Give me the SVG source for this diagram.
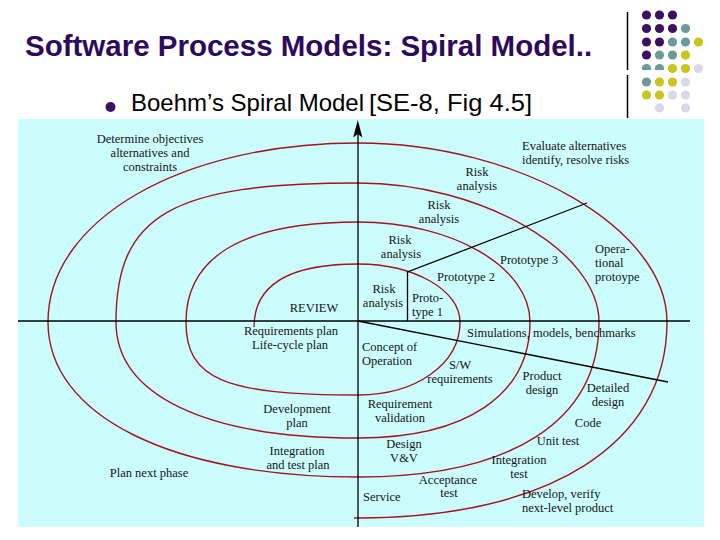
<svg xmlns="http://www.w3.org/2000/svg" width="720" height="540" viewBox="0 0 720 540">
<defs>
<style>
.t{font-family:"Liberation Serif","Times New Roman",serif;font-size:12.5px;fill:#151515}
.c{text-anchor:middle}
.sp{fill:none;stroke:#a3141c;stroke-width:1.4}
.ax{stroke:#000;stroke-width:1.3;fill:none}
.pu{fill:#3b1260}.te{fill:#6c9a9a}.ye{fill:#c9c41e}.la{fill:#d8d8ea}
</style>
</defs>
<rect width="720" height="540" fill="#fff"/>
<g id="title">
<text x="25" y="56" font-family="'Liberation Sans',Arial,sans-serif" font-weight="bold" font-size="29.5" fill="#2e0a5a">Software Process Models: Spiral Model..</text>
</g>
<g id="bullet">
<circle cx="110.5" cy="107" r="5" fill="#3b1260"/>
<text x="131" y="111" font-family="'Liberation Sans',Arial,sans-serif" font-size="24" fill="#000">Boehm’s Spiral Model</text>
<text x="369" y="111" font-family="'Liberation Sans',Arial,sans-serif" font-size="24" fill="#000" textLength="163" lengthAdjust="spacingAndGlyphs">[SE-8, Fig 4.5]</text>
</g>
<g id="decor">
<line x1="627.5" y1="12" x2="627.5" y2="118" stroke="#000" stroke-width="1.5"/>
<circle class="pu" cx="646.5" cy="15" r="4.6"/><circle class="pu" cx="659.5" cy="15" r="4.6"/><circle class="pu" cx="672.5" cy="15" r="4.6"/>
<circle class="pu" cx="646.5" cy="28.5" r="4.6"/><circle class="pu" cx="659.5" cy="28.5" r="4.6"/><circle class="pu" cx="672.5" cy="28.5" r="4.6"/><circle class="te" cx="685.5" cy="28.5" r="4.6"/>
<circle class="pu" cx="646.5" cy="42" r="4.6"/><circle class="pu" cx="659.5" cy="42" r="4.6"/><circle class="te" cx="672.5" cy="42" r="4.6"/><circle class="te" cx="685.5" cy="42" r="4.6"/><circle class="ye" cx="698.5" cy="42" r="4.6"/>
<circle class="pu" cx="646.5" cy="55" r="4.6"/><circle class="te" cx="659.5" cy="55" r="4.6"/><circle class="te" cx="672.5" cy="55" r="4.6"/><circle class="ye" cx="685.5" cy="55" r="4.6"/>
<circle class="te" cx="646.5" cy="68.5" r="4.6"/><circle class="te" cx="659.5" cy="68.5" r="4.6"/><circle class="ye" cx="672.5" cy="68.5" r="4.6"/><circle class="ye" cx="685.5" cy="68.5" r="4.6"/><circle class="la" cx="698.5" cy="68.5" r="4.6"/>
<rect x="620" y="70" width="47" height="5" fill="#fff"/>
<circle class="te" cx="646.5" cy="82" r="4.6"/><circle class="ye" cx="659.5" cy="82" r="4.6"/><circle class="ye" cx="672.5" cy="82" r="4.6"/><circle class="la" cx="685.5" cy="82" r="4.6"/>
<circle class="ye" cx="646.5" cy="95" r="4.6"/><circle class="ye" cx="659.5" cy="95" r="4.6"/><circle class="la" cx="672.5" cy="95" r="4.6"/><circle class="la" cx="685.5" cy="95" r="4.6"/>
<circle class="la" cx="659.5" cy="108" r="4.6"/><circle class="la" cx="685.5" cy="108" r="4.6"/>
</g>
<rect id="panel" x="18" y="119" width="686" height="408" fill="#ccfdfd"/>
<g id="spiral">
<path class="sp" d="M254 327 C254 285 288 264 358 264 C414 264 460 290 460 322 C460 364 416 395 358 395 C224 395 186 379 186 322 C186 256 244.5 222 358 222 C452.6 222 530 267 530 322 C530 395 466 438 358 438 C205.5 438 116 395 116 322 C116 215 171.7 183 358 183 C481 183 599 251 599 322 C599 421 512 477 358 477 C172 477 48 416 48 322 C48 220 181 143 358 143 C519 143 667 229 667 322 C667 443.5 549.6 518 358 518 L354 518"/>
</g>
<g id="connectors">
<line class="ax" x1="18" y1="321" x2="690" y2="321"/>
<line class="ax" x1="358" y1="527" x2="358" y2="134"/>
<polygon points="357.8,120 362.4,137.5 357.8,134 353.2,137.5" fill="#000"/>
<polyline class="ax" points="407.5,321 407.5,272 587,203"/>
<line class="ax" x1="358" y1="321" x2="668" y2="382"/>
</g>
<g id="q-objectives">
<text class="t c" x="150" y="143">Determine objectives</text>
<text class="t c" x="150" y="157">alternatives and</text>
<text class="t c" x="150" y="171">constraints</text>
<text class="t c" x="314" y="312">REVIEW</text>
</g>
<g id="q-risks">
<text class="t" x="522" y="150">Evaluate alternatives</text>
<text class="t" x="522" y="164">identify, resolve risks</text>
<text class="t c" x="477" y="176">Risk</text>
<text class="t c" x="477" y="190">analysis</text>
<text class="t c" x="439" y="209">Risk</text>
<text class="t c" x="439" y="223">analysis</text>
<text class="t c" x="400" y="244">Risk</text>
<text class="t c" x="401" y="258">analysis</text>
<text class="t c" x="384" y="293">Risk</text>
<text class="t c" x="383" y="307">analysis</text>
<text class="t" x="412" y="302">Proto-</text>
<text class="t" x="412" y="316">type 1</text>
<text class="t" x="437" y="281">Prototype 2</text>
<text class="t" x="500" y="264">Prototype 3</text>
<text class="t" x="595" y="253">Opera-</text>
<text class="t" x="595" y="267">tional</text>
<text class="t" x="595" y="281">protoype</text>
</g>
<g id="q-develop">
<text class="t" x="467" y="337">Simulations, models, benchmarks</text>
<text class="t" x="362" y="351">Concept of</text>
<text class="t" x="362" y="365">Operation</text>
<text class="t c" x="460" y="369">S/W</text>
<text class="t c" x="460" y="383">requirements</text>
<text class="t c" x="542" y="380">Product</text>
<text class="t c" x="542" y="394">design</text>
<text class="t c" x="608" y="392">Detailed</text>
<text class="t c" x="608" y="406">design</text>
<text class="t c" x="400" y="408">Requirement</text>
<text class="t c" x="400" y="422">validation</text>
<text class="t c" x="588" y="427">Code</text>
<text class="t c" x="558" y="445">Unit test</text>
<text class="t c" x="404" y="448">Design</text>
<text class="t c" x="404" y="462">V&amp;V</text>
<text class="t c" x="519" y="464">Integration</text>
<text class="t c" x="519" y="478">test</text>
<text class="t c" x="448" y="484">Acceptance</text>
<text class="t c" x="449" y="497" font-size="11">test</text>
<text class="t" x="363" y="501">Service</text>
<text class="t" x="522" y="498">Develop, verify</text>
<text class="t" x="522" y="512">next-level product</text>
</g>
<g id="q-plan">
<text class="t c" x="291" y="335">Requirements plan</text>
<text class="t c" x="290" y="349">Life-cycle plan</text>
<text class="t c" x="297" y="413">Development</text>
<text class="t c" x="297" y="427">plan</text>
<text class="t c" x="297" y="455">Integration</text>
<text class="t c" x="298" y="469">and test plan</text>
<text class="t c" x="149" y="477">Plan next phase</text>
</g>
</svg>
